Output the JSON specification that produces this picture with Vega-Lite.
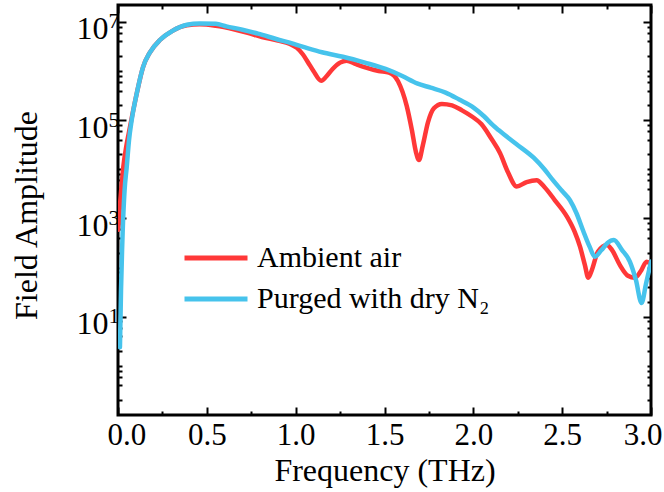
{
  "$schema": "https://vega.github.io/schema/vega-lite/v6.json",
  "width": 533,
  "height": 410,
  "autosize": {"type": "none"},
  "padding": {"left": 118, "top": 5, "right": 13, "bottom": 77},
  "background": "white",
  "config": {
    "view": {"stroke": "black", "strokeWidth": 3},
    "font": "Liberation Serif",
    "axis": {
      "domain": false,
      "grid": false,
      "tickColor": "black",
      "tickWidth": 2,
      "labelColor": "black",
      "labelFont": "Liberation Serif",
      "labelFontSize": 32,
      "titleFont": "Liberation Serif",
      "titleFontSize": 32,
      "titleFontWeight": "normal",
      "titleColor": "black",
      "labelOverlap": false
    }
  },
  "data": {
    "values": [
      {"f": 0.002, "a": 589, "s": "Ambient air"},
      {"f": 0.011, "a": 1862, "s": "Ambient air"},
      {"f": 0.023, "a": 6026, "s": "Ambient air"},
      {"f": 0.030, "a": 11200, "s": "Ambient air"},
      {"f": 0.045, "a": 26900, "s": "Ambient air"},
      {"f": 0.062, "a": 57500, "s": "Ambient air"},
      {"f": 0.077, "a": 110000, "s": "Ambient air"},
      {"f": 0.107, "a": 370000, "s": "Ambient air"},
      {"f": 0.141, "a": 1200000, "s": "Ambient air"},
      {"f": 0.18, "a": 2400000, "s": "Ambient air"},
      {"f": 0.236, "a": 4270000, "s": "Ambient air"},
      {"f": 0.304, "a": 6460000, "s": "Ambient air"},
      {"f": 0.388, "a": 8500000, "s": "Ambient air"},
      {"f": 0.46, "a": 8900000, "s": "Ambient air"},
      {"f": 0.55, "a": 8300000, "s": "Ambient air"},
      {"f": 0.651, "a": 7080000, "s": "Ambient air"},
      {"f": 0.73, "a": 6000000, "s": "Ambient air"},
      {"f": 0.81, "a": 4900000, "s": "Ambient air"},
      {"f": 0.90, "a": 4170000, "s": "Ambient air"},
      {"f": 0.968, "a": 3550000, "s": "Ambient air"},
      {"f": 1.007, "a": 2950000, "s": "Ambient air"},
      {"f": 1.04, "a": 2190000, "s": "Ambient air"},
      {"f": 1.069, "a": 1510000, "s": "Ambient air"},
      {"f": 1.10, "a": 1000000, "s": "Ambient air"},
      {"f": 1.144, "a": 630000, "s": "Ambient air"},
      {"f": 1.175, "a": 790000, "s": "Ambient air"},
      {"f": 1.208, "a": 1100000, "s": "Ambient air"},
      {"f": 1.25, "a": 1480000, "s": "Ambient air"},
      {"f": 1.287, "a": 1620000, "s": "Ambient air"},
      {"f": 1.34, "a": 1380000, "s": "Ambient air"},
      {"f": 1.387, "a": 1200000, "s": "Ambient air"},
      {"f": 1.467, "a": 1000000, "s": "Ambient air"},
      {"f": 1.525, "a": 930000, "s": "Ambient air"},
      {"f": 1.576, "a": 620000, "s": "Ambient air"},
      {"f": 1.625, "a": 195000, "s": "Ambient air"},
      {"f": 1.654, "a": 63000, "s": "Ambient air"},
      {"f": 1.677, "a": 22400, "s": "Ambient air"},
      {"f": 1.694, "a": 15500, "s": "Ambient air"},
      {"f": 1.716, "a": 31000, "s": "Ambient air"},
      {"f": 1.745, "a": 91000, "s": "Ambient air"},
      {"f": 1.778, "a": 174000, "s": "Ambient air"},
      {"f": 1.823, "a": 214000, "s": "Ambient air"},
      {"f": 1.88, "a": 200000, "s": "Ambient air"},
      {"f": 1.936, "a": 158000, "s": "Ambient air"},
      {"f": 1.99, "a": 120000, "s": "Ambient air"},
      {"f": 2.045, "a": 83000, "s": "Ambient air"},
      {"f": 2.10, "a": 42700, "s": "Ambient air"},
      {"f": 2.15, "a": 21400, "s": "Ambient air"},
      {"f": 2.195, "a": 8700, "s": "Ambient air"},
      {"f": 2.244, "a": 4470, "s": "Ambient air"},
      {"f": 2.30, "a": 5500, "s": "Ambient air"},
      {"f": 2.356, "a": 6000, "s": "Ambient air"},
      {"f": 2.40, "a": 4370, "s": "Ambient air"},
      {"f": 2.459, "a": 2340, "s": "Ambient air"},
      {"f": 2.526, "a": 1100, "s": "Ambient air"},
      {"f": 2.57, "a": 537, "s": "Ambient air"},
      {"f": 2.60, "a": 269, "s": "Ambient air"},
      {"f": 2.628, "a": 112, "s": "Ambient air"},
      {"f": 2.647, "a": 62, "s": "Ambient air"},
      {"f": 2.667, "a": 89, "s": "Ambient air"},
      {"f": 2.701, "a": 209, "s": "Ambient air"},
      {"f": 2.752, "a": 288, "s": "Ambient air"},
      {"f": 2.78, "a": 229, "s": "Ambient air"},
      {"f": 2.825, "a": 112, "s": "Ambient air"},
      {"f": 2.87, "a": 68, "s": "Ambient air"},
      {"f": 2.909, "a": 62, "s": "Ambient air"},
      {"f": 2.943, "a": 85, "s": "Ambient air"},
      {"f": 2.975, "a": 132, "s": "Ambient air"},
      {"f": 3.0, "a": 117, "s": "Ambient air"},
      {"f": 0.011, "a": 2.4, "s": "Purged with dry N₂"},
      {"f": 0.017, "a": 34.7, "s": "Purged with dry N₂"},
      {"f": 0.023, "a": 229, "s": "Purged with dry N₂"},
      {"f": 0.026, "a": 501, "s": "Purged with dry N₂"},
      {"f": 0.037, "a": 3715, "s": "Purged with dry N₂"},
      {"f": 0.049, "a": 11000, "s": "Purged with dry N₂"},
      {"f": 0.062, "a": 39000, "s": "Purged with dry N₂"},
      {"f": 0.077, "a": 100000, "s": "Purged with dry N₂"},
      {"f": 0.107, "a": 370000, "s": "Purged with dry N₂"},
      {"f": 0.141, "a": 1200000, "s": "Purged with dry N₂"},
      {"f": 0.18, "a": 2400000, "s": "Purged with dry N₂"},
      {"f": 0.236, "a": 4270000, "s": "Purged with dry N₂"},
      {"f": 0.304, "a": 6460000, "s": "Purged with dry N₂"},
      {"f": 0.388, "a": 8700000, "s": "Purged with dry N₂"},
      {"f": 0.46, "a": 9300000, "s": "Purged with dry N₂"},
      {"f": 0.55, "a": 9100000, "s": "Purged with dry N₂"},
      {"f": 0.61, "a": 8100000, "s": "Purged with dry N₂"},
      {"f": 0.70, "a": 6900000, "s": "Purged with dry N₂"},
      {"f": 0.788, "a": 5750000, "s": "Purged with dry N₂"},
      {"f": 0.89, "a": 4470000, "s": "Purged with dry N₂"},
      {"f": 0.989, "a": 3550000, "s": "Purged with dry N₂"},
      {"f": 1.07, "a": 2880000, "s": "Purged with dry N₂"},
      {"f": 1.148, "a": 2400000, "s": "Purged with dry N₂"},
      {"f": 1.266, "a": 1950000, "s": "Purged with dry N₂"},
      {"f": 1.39, "a": 1480000, "s": "Purged with dry N₂"},
      {"f": 1.506, "a": 1100000, "s": "Purged with dry N₂"},
      {"f": 1.60, "a": 790000, "s": "Purged with dry N₂"},
      {"f": 1.683, "a": 560000, "s": "Purged with dry N₂"},
      {"f": 1.76, "a": 457000, "s": "Purged with dry N₂"},
      {"f": 1.844, "a": 363000, "s": "Purged with dry N₂"},
      {"f": 1.92, "a": 263000, "s": "Purged with dry N₂"},
      {"f": 2.003, "a": 178000, "s": "Purged with dry N₂"},
      {"f": 2.06, "a": 120000, "s": "Purged with dry N₂"},
      {"f": 2.11, "a": 79000, "s": "Purged with dry N₂"},
      {"f": 2.142, "a": 63000, "s": "Purged with dry N₂"},
      {"f": 2.24, "a": 33000, "s": "Purged with dry N₂"},
      {"f": 2.341, "a": 17000, "s": "Purged with dry N₂"},
      {"f": 2.40, "a": 10000, "s": "Purged with dry N₂"},
      {"f": 2.448, "a": 6000, "s": "Purged with dry N₂"},
      {"f": 2.50, "a": 3600, "s": "Purged with dry N₂"},
      {"f": 2.544, "a": 2340, "s": "Purged with dry N₂"},
      {"f": 2.58, "a": 1290, "s": "Purged with dry N₂"},
      {"f": 2.617, "a": 575, "s": "Purged with dry N₂"},
      {"f": 2.655, "a": 263, "s": "Purged with dry N₂"},
      {"f": 2.684, "a": 166, "s": "Purged with dry N₂"},
      {"f": 2.72, "a": 224, "s": "Purged with dry N₂"},
      {"f": 2.755, "a": 316, "s": "Purged with dry N₂"},
      {"f": 2.791, "a": 363, "s": "Purged with dry N₂"},
      {"f": 2.836, "a": 229, "s": "Purged with dry N₂"},
      {"f": 2.881, "a": 132, "s": "Purged with dry N₂"},
      {"f": 2.915, "a": 56, "s": "Purged with dry N₂"},
      {"f": 2.947, "a": 19, "s": "Purged with dry N₂"},
      {"f": 2.971, "a": 45, "s": "Purged with dry N₂"},
      {"f": 3.0, "a": 132, "s": "Purged with dry N₂"}
    ]
  },
  "layer": [
    {
      "mark": {"type": "line", "interpolate": "monotone", "strokeWidth": 4.5, "strokeCap": "round", "clip": true},
      "encoding": {
        "x": {
          "field": "f", "type": "quantitative",
          "scale": {"domain": [0, 3], "nice": false, "zero": false},
          "axis": {
            "orient": "bottom",
            "title": "Frequency (THz)",
            "values": [0, 0.25, 0.5, 0.75, 1, 1.25, 1.5, 1.75, 2, 2.25, 2.5, 2.75, 3],
            "labelExpr": "(datum.value * 2) % 1 == 0 ? format(datum.value, '.1f') : ''",
            "tickSize": {"condition": {"test": "(datum.value * 2) % 1 == 0", "value": -8}, "value": -4},
            "labelFontSize": 31,
            "labelPadding": 13,
            "labelFlush": true,
            "labelFlushOffset": 11,
            "titleY": 65,
            "titleBaseline": "alphabetic",
            "titleFontSize": 32
          }
        },
        "y": {
          "field": "a", "type": "quantitative",
          "scale": {"type": "log", "domain": [0.1, 22000000], "nice": false},
          "axis": {
            "orient": "left",
            "title": "Field Amplitude",
            "values": [0.2, 0.4, 0.6, 0.8, 1, 2, 4, 6, 8, 10, 20, 40, 60, 80, 100, 200, 400, 600, 800, 1000, 2000, 4000, 6000, 8000, 10000, 20000, 40000, 60000, 80000, 100000, 200000, 400000, 600000, 800000, 1000000, 2000000, 4000000, 6000000, 8000000, 10000000],
            "labelExpr": "indexof([10, 1000, 100000, 10000000], datum.value) >= 0 ? '10' : ''",
            "tickSize": {"condition": {"test": "indexof([10, 1000, 100000, 10000000], datum.value) >= 0", "value": -8}, "value": -4},
            "labelPadding": 18,
            "labelOffset": 7,
            "labelBaseline": "middle",
            "labelFlush": false,
            "titleX": -92,
            "titleY": 210,
            "titleAlign": "center",
            "titleBaseline": "middle",
            "titleAngle": -90
          }
        },
        "color": {
          "field": "s", "type": "nominal",
          "scale": {"domain": ["Ambient air", "Purged with dry N₂"], "range": ["#FF3838", "#46C3EC"]},
          "legend": {
            "orient": "none",
            "legendX": 83,
            "legendY": 238,
            "title": null,
            "symbolType": "M-3,0H3",
            "symbolSize": 441,
            "symbolStrokeWidth": 5,
            "labelFont": "Liberation Serif",
            "labelFontSize": 30,
            "labelColor": "black",
            "labelOffset": 26,
            "labelLimit": 500,
            "rowPadding": 11,
            "padding": 0
          }
        }
      }
    },
    {
      "mark": {"type": "line", "opacity": 0},
      "encoding": {
        "x": {"field": "f", "type": "quantitative", "axis": null},
        "y": {
          "field": "a", "type": "quantitative",
          "axis": {
            "orient": "left", "title": null, "ticks": false,
            "values": [10, 1000, 100000, 10000000],
            "labelExpr": "datum.value == 10 ? '1' : datum.value == 1000 ? '3' : datum.value == 100000 ? '5' : '7'",
            "labelFontSize": 22,
            "labelAlign": "left",
            "labelBaseline": "middle",
            "labelPadding": 10,
            "labelOffset": -1,
            "labelFlush": false
          }
        },
        "detail": {"field": "s", "type": "nominal"}
      }
    },
    {
      "mark": {"type": "line", "opacity": 0},
      "encoding": {
        "x": {
          "field": "f", "type": "quantitative",
          "axis": {
            "orient": "top", "title": null, "labels": false,
            "values": [0, 0.25, 0.5, 0.75, 1, 1.25, 1.5, 1.75, 2, 2.25, 2.5, 2.75, 3],
            "tickSize": {"condition": {"test": "(datum.value * 2) % 1 == 0", "value": -8}, "value": -4}
          }
        },
        "y": {
          "field": "a", "type": "quantitative",
          "axis": {
            "orient": "right", "title": null, "labels": false,
            "values": [0.2, 0.4, 0.6, 0.8, 1, 2, 4, 6, 8, 10, 20, 40, 60, 80, 100, 200, 400, 600, 800, 1000, 2000, 4000, 6000, 8000, 10000, 20000, 40000, 60000, 80000, 100000, 200000, 400000, 600000, 800000, 1000000, 2000000, 4000000, 6000000, 8000000, 10000000],
            "tickSize": {"condition": {"test": "indexof([10, 1000, 100000, 10000000], datum.value) >= 0", "value": -8}, "value": -4}
          }
        },
        "detail": {"field": "s", "type": "nominal"}
      }
    }
  ],
  "resolve": {"axis": {"x": "independent", "y": "independent"}}
}
